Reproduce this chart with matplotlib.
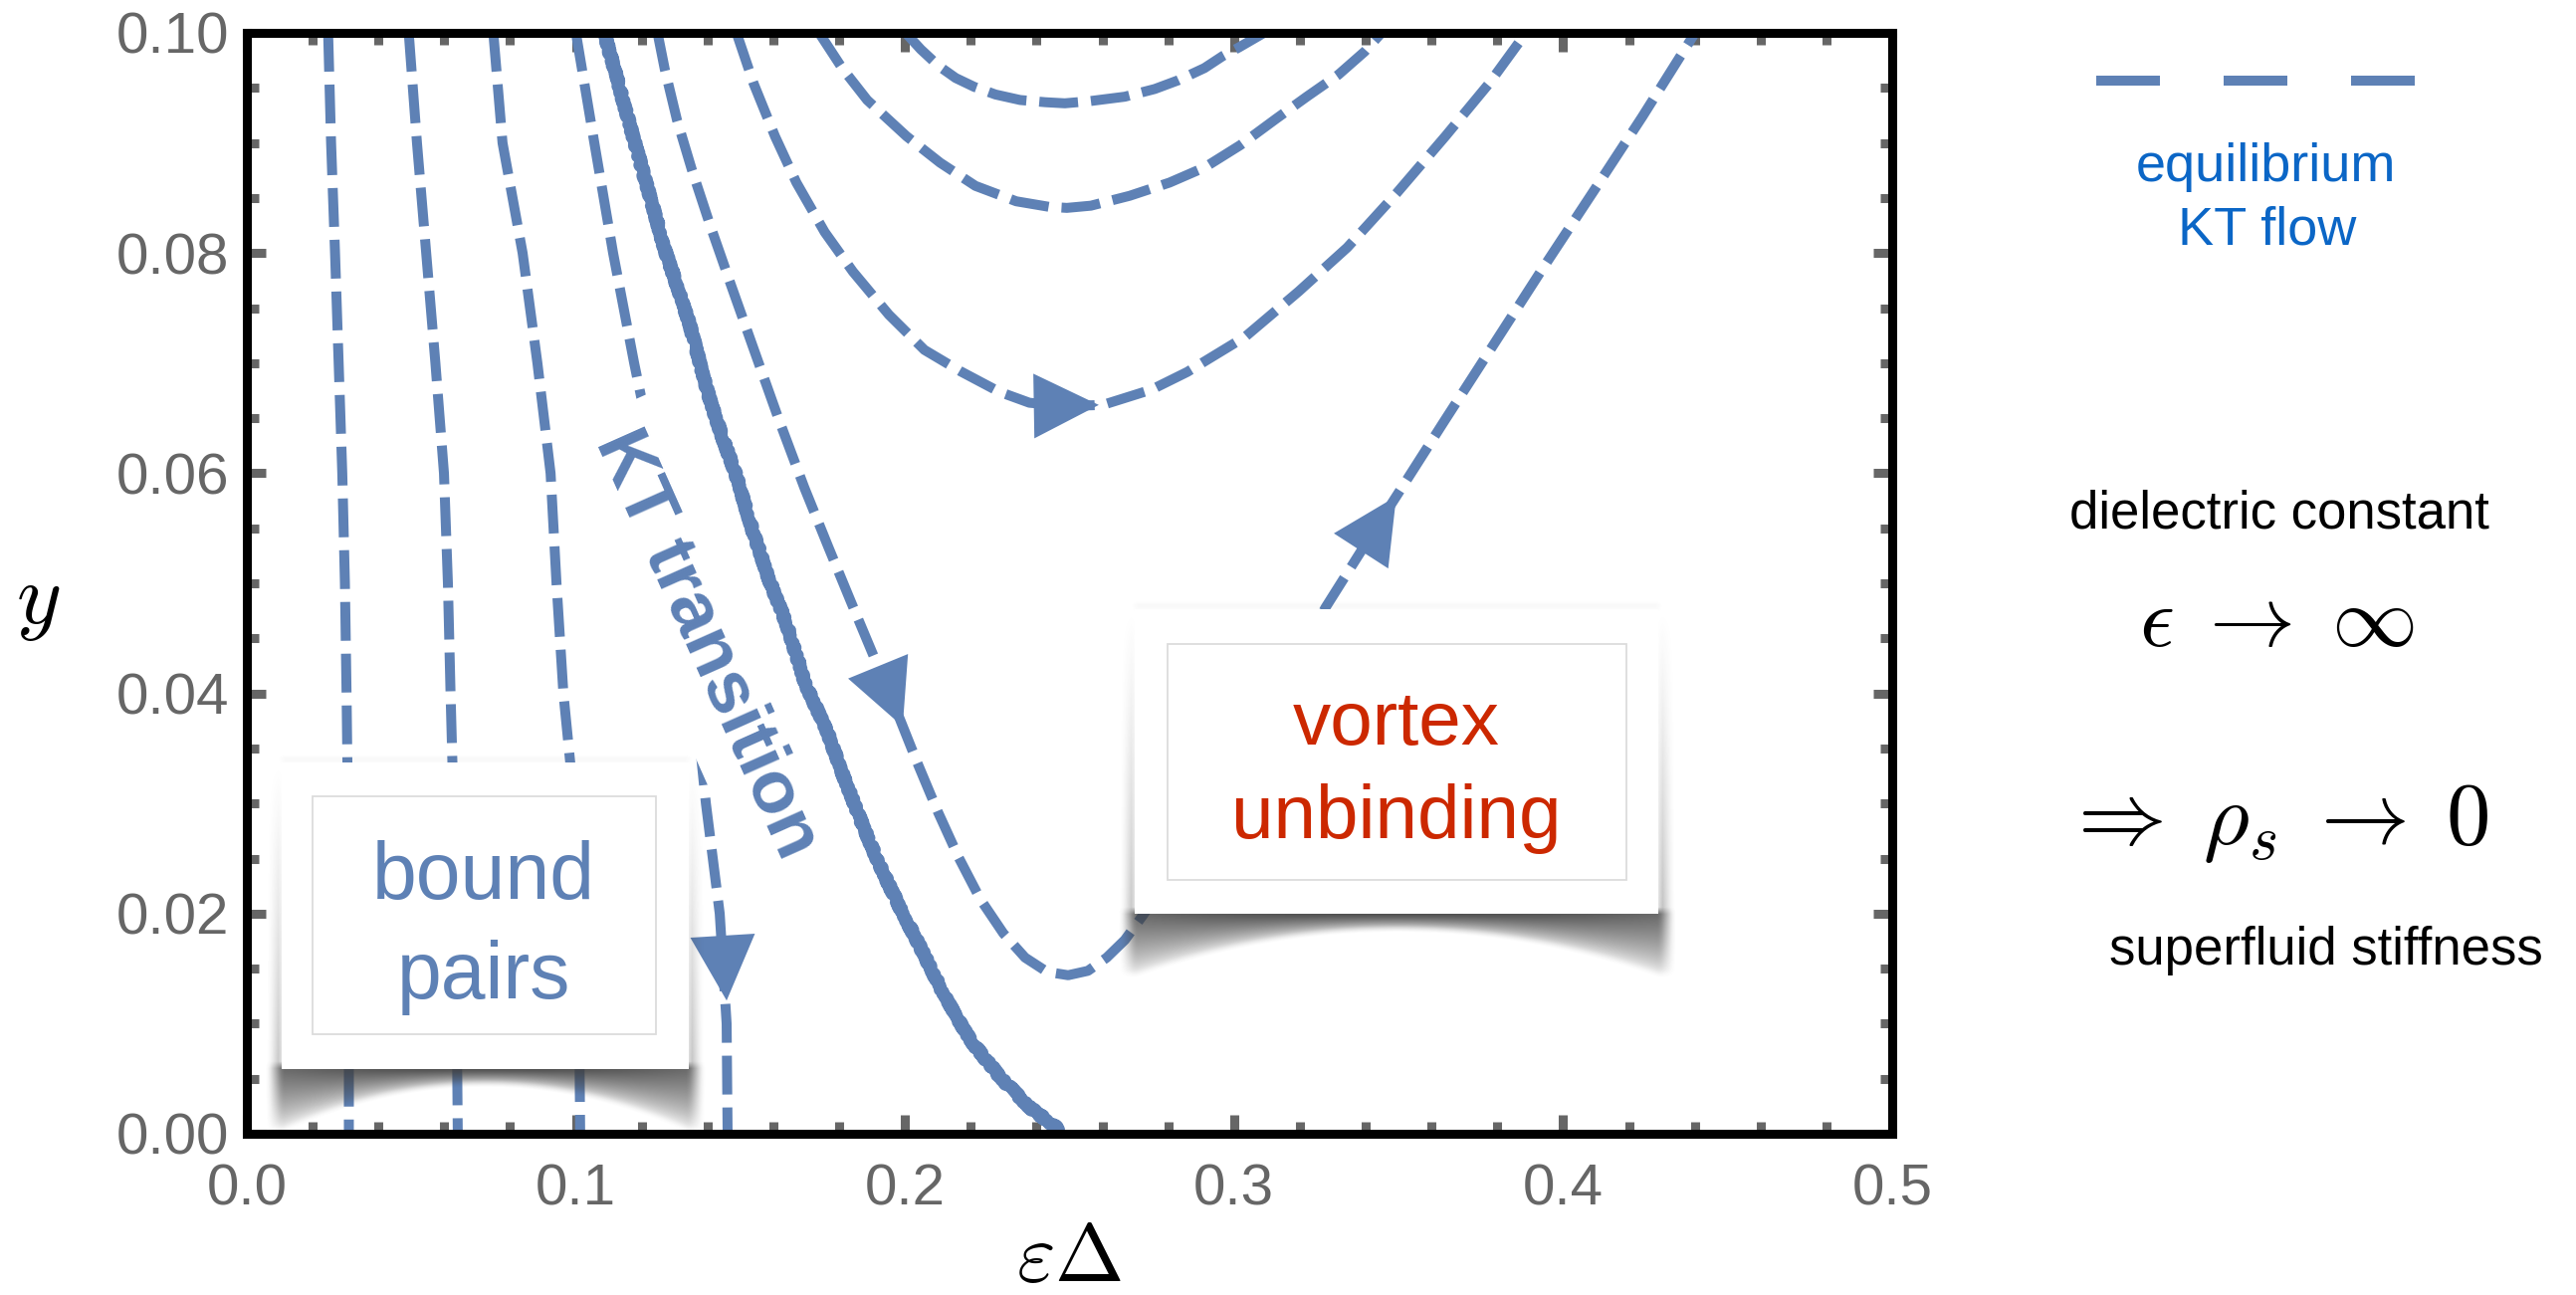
import numpy as np
import matplotlib
matplotlib.use("Agg")
import matplotlib.pyplot as plt
from matplotlib.ticker import MultipleLocator, FormatStrFormatter
from matplotlib.patches import Rectangle
from matplotlib.lines import Line2D

plt.rcParams['font.family'] = ['Liberation Sans', 'DejaVu Sans']
plt.rcParams['mathtext.fontset'] = 'cm'

# ---------------- data ----------------
# vertical flow lines (bound-pair side), sampled on a common y grid
y_grid = [0.100, 0.090, 0.080, 0.070, 0.060, 0.050, 0.040, 0.030, 0.020, 0.010, 0.000]
flowA_x = [0.0247, 0.0256, 0.0268, 0.0279, 0.0290, 0.0298, 0.0303, 0.0307, 0.0309, 0.0310, 0.0310]
flowB_x = [0.0492, 0.0517, 0.0545, 0.0573, 0.0599, 0.0611, 0.0619, 0.0628, 0.0634, 0.0638, 0.0641]
flowC_x = [0.0749, 0.0777, 0.0838, 0.0883, 0.0923, 0.0941, 0.0962, 0.0995, 0.1004, 0.1010, 0.1013]
flowD_x = [0.1000, 0.1056, 0.1113, 0.1177, 0.1246, 0.1310, 0.1361, 0.1395, 0.1437, 0.1458, 0.1461]

# flow line through the vortex-unbinding region (down, turning, up)
flowE_x = [0.1248, 0.1270, 0.1307, 0.1352, 0.1407, 0.1470, 0.1540, 0.1615, 0.1694, 0.1767,
           0.1836, 0.1906, 0.1972, 0.2036, 0.2099, 0.2163, 0.2229, 0.2299, 0.2365, 0.2432,
           0.2496, 0.2556, 0.2613, 0.2668, 0.2722, 0.2789, 0.2880, 0.3001, 0.3122, 0.3212,
           0.3278, 0.3394, 0.3493, 0.3636, 0.3787, 0.3938, 0.4090, 0.4241, 0.4401]
flowE_y = [0.1000, 0.0967, 0.0921, 0.0876, 0.0826, 0.0772, 0.0713, 0.0650, 0.0587, 0.0533,
           0.0483, 0.0433, 0.0386, 0.0338, 0.0293, 0.0251, 0.0213, 0.0182, 0.0160, 0.0147,
           0.0144, 0.0148, 0.0160, 0.0176, 0.0198, 0.0227, 0.0270, 0.0329, 0.0392, 0.0442,
           0.0478, 0.0533, 0.0579, 0.0646, 0.0716, 0.0786, 0.0855, 0.0924, 0.1000]

# three upper arcs
flowF_x = [0.1488, 0.1540, 0.1605, 0.1670, 0.1756, 0.1842, 0.1951, 0.2059, 0.2166, 0.2286,
           0.2378, 0.2489, 0.2601, 0.2750, 0.2858, 0.3034, 0.3196, 0.3344, 0.3493, 0.3642,
           0.3775, 0.3887]
flowF_y = [0.1000, 0.0954, 0.0906, 0.0864, 0.0819, 0.0783, 0.0744, 0.0712, 0.0693, 0.0674,
           0.0664, 0.0661, 0.0662, 0.0676, 0.0692, 0.0724, 0.0765, 0.0805, 0.0854, 0.0906,
           0.0954, 0.1000]
flowG_x = [0.1739, 0.1809, 0.1885, 0.2005, 0.2107, 0.2214, 0.2338, 0.2437, 0.2492, 0.2565,
           0.2683, 0.2804, 0.2912, 0.3019, 0.3128, 0.3221, 0.3317, 0.3397, 0.3448]
flowG_y = [0.1000, 0.0968, 0.0939, 0.0906, 0.0882, 0.0861, 0.0847, 0.0842, 0.0841, 0.0843,
           0.0852, 0.0864, 0.0878, 0.0898, 0.0922, 0.0942, 0.0962, 0.0983, 0.1000]
flowH_x = [0.2002, 0.2048, 0.2102, 0.2154, 0.2210, 0.2275, 0.2350, 0.2426, 0.2486, 0.2562,
           0.2668, 0.2759, 0.2831, 0.2910, 0.2966, 0.3016, 0.3091]
flowH_y = [0.1000, 0.0985, 0.0970, 0.0959, 0.0951, 0.0944, 0.0939, 0.0937, 0.0936, 0.0938,
           0.0942, 0.0949, 0.0957, 0.0968, 0.0979, 0.0987, 0.1000]

# KT transition (separatrix)
kt_x = [0.1086, 0.1125, 0.1183, 0.1231, 0.1270, 0.1310, 0.1346, 0.1379, 0.1410, 0.1446,
        0.1485, 0.1534, 0.1585, 0.1641, 0.1697, 0.1764, 0.1809, 0.1865, 0.1921, 0.1987,
        0.2044, 0.2122, 0.2201, 0.2290, 0.2379, 0.2468]
kt_y = [0.1000, 0.0958, 0.0896, 0.0845, 0.0803, 0.0768, 0.0735, 0.0697, 0.0664, 0.0632,
        0.0600, 0.0551, 0.0505, 0.0462, 0.0409, 0.0365, 0.0328, 0.0285, 0.0245, 0.0204,
        0.0171, 0.0124, 0.0084, 0.0051, 0.0024, 0.0004]

# flow-direction arrows: (base x, base y, tip x, tip y)
arrow_base_x = [0.2384, 0.1919, 0.1446, 0.3385]
arrow_base_y = [0.0661, 0.0424, 0.0179, 0.0529]
arrow_tip_x = [0.2589, 0.1993, 0.1458, 0.3493]
arrow_tip_y = [0.0662, 0.0370, 0.0121, 0.0579]

x_ticks = [0.0, 0.1, 0.2, 0.3, 0.4, 0.5]
y_ticks = [0.00, 0.02, 0.04, 0.06, 0.08, 0.10]

BLUE = '#5E81B5'
RED = '#CC2800'
LEGBLUE = '#0B66C6'
GRAY = '#666666'

W, H, DPI = 2588, 1301, 100
fig = plt.figure(figsize=(W / DPI, H / DPI), dpi=DPI)
ax = fig.add_axes([248 / W, 1 - 1139 / H, 1653 / W, 1106 / H])

# pixel -> data scale (for styling sizes only)
sx = 0.5 / 1653.0
sy = 0.1 / 1106.0

LW = 7.2
dash = (0, (3.9, 1.3))
for xs, ys in [(flowA_x, y_grid), (flowB_x, y_grid), (flowC_x, y_grid), (flowD_x, y_grid),
               (flowE_x, flowE_y), (flowF_x, flowF_y), (flowG_x, flowG_y), (flowH_x, flowH_y)]:
    ax.plot(xs, ys, color=BLUE, lw=LW, ls=dash, dash_capstyle='butt', zorder=2)

kt_line, = ax.plot(kt_x, kt_y, color=BLUE, lw=9, solid_capstyle='round', zorder=2.6)
kt_line.set_sketch_params(scale=1.5, length=5, randomness=12)

for bx, by, tx, ty in zip(arrow_base_x, arrow_base_y, arrow_tip_x, arrow_tip_y):
    ax.annotate('', xy=(tx, ty), xytext=(bx, by),
                arrowprops=dict(arrowstyle='-|>,head_length=2.35,head_width=1.17',
                                mutation_scale=20, fc=BLUE, ec='none', lw=0,
                                shrinkA=0, shrinkB=0), zorder=2.2)

# KT transition label (white background hides the dashed line behind it)
ax.text(0.1398, 0.0445, 'KT transition', rotation=-66, rotation_mode='anchor',
        ha='center', va='center', fontsize=54, fontweight='bold', color=BLUE, zorder=2.5,
        bbox=dict(boxstyle='square,pad=0.3', fc='white', ec='none'))


def box_blur(a, k):
    ker = np.ones(k) / k
    a = np.apply_along_axis(lambda r: np.convolve(r, ker, mode='same'), 1, a)
    a = np.apply_along_axis(lambda r: np.convolve(r, ker, mode='same'), 0, a)
    return a


def card(x0, y0, x1, y1, ix0, iy0, ix1, iy1):
    Wp = (x1 - x0) / sx
    Hp = (y1 - y0) / sy
    mL, mB, mT = 22, 75, 10
    nx = int(Wp + 2 * mL)
    ny = int(Hp + mB + mT)
    X = np.arange(nx) - mL
    Yd = np.arange(ny) - mT
    XX, YY = np.meshgrid(X, Yd)
    u = np.clip(XX / Wp, 0, 1)
    d = YY - Hp
    c = 15 + 46 * (2 * u - 1) ** 2
    a = 0.78 + 0.17 * (1 - (2 * u - 1) ** 2)
    below = a * np.clip(1 - d / c, 0, 1) ** 0.65 * (d >= -4)
    out = np.maximum(-XX, XX - Wp)
    below *= np.clip(1 - out / 14, 0, 1)
    inside_v = (YY >= 0) & (YY <= Hp + 2)
    side = 0.40 * np.clip(1 - out / 13, 0, 1) * (out > 0) * np.clip(YY / Hp, 0, 1) ** 1.2 * inside_v
    top = 0.08 * np.clip(1 - (-YY) / 6, 0, 1) * (YY < 0) * (out <= 0)
    alpha = np.maximum(np.maximum(below, side), top)
    alpha = box_blur(alpha, 7)
    rgba = np.zeros((ny, nx, 4))
    rgba[..., :3] = 0.25
    rgba[..., 3] = np.clip(alpha, 0, 1)
    ax.imshow(rgba, extent=[x0 - mL * sx, x0 + (nx - mL) * sx,
                            y1 - (ny - mT) * sy, y1 + mT * sy],
              origin='upper', aspect='auto', interpolation='bilinear', zorder=3)
    ax.add_patch(Rectangle((x0, y0), x1 - x0, y1 - y0, fc='white', ec='none', zorder=3.1))
    ax.add_patch(Rectangle((ix0, iy0), ix1 - ix0, iy1 - iy0, fc='none', ec='#dcdcdc',
                           lw=1.3, zorder=3.2))


card(0.0107, 0.00591, 0.1343, 0.03373, 0.0199, 0.00904, 0.1243, 0.03065)
card(0.2698, 0.01998, 0.4289, 0.04765, 0.2799, 0.02306, 0.4192, 0.04448)

ax.text(0.0719, 0.02134, 'bound', ha='center', va='baseline', fontsize=58, color=BLUE, zorder=3.3)
ax.text(0.0719, 0.01232, 'pairs', ha='center', va='baseline', fontsize=58, color=BLUE, zorder=3.3)
ax.text(0.34915, 0.03535, 'vortex', ha='center', va='baseline', fontsize=55, color=RED, zorder=3.3)
ax.text(0.34915, 0.02685, 'unbinding', ha='center', va='baseline', fontsize=55, color=RED, zorder=3.3)

# axes styling
ax.set_xlim(0, 0.5)
ax.set_ylim(0, 0.1)
ax.set_xticks(x_ticks)
ax.set_yticks(y_ticks)
ax.xaxis.set_minor_locator(MultipleLocator(0.02))
ax.yaxis.set_minor_locator(MultipleLocator(0.005))
ax.xaxis.set_major_formatter(FormatStrFormatter('%.1f'))
ax.yaxis.set_major_formatter(FormatStrFormatter('%.2f'))
ax.tick_params(which='both', direction='in', top=True, right=True, color=GRAY,
               width=6.5, labelcolor=GRAY, labelsize=42)
ax.tick_params(which='major', length=14)
ax.tick_params(which='minor', length=8.5)
ax.tick_params(axis='x', pad=21)
ax.tick_params(axis='y', pad=13)
for s in ax.spines.values():
    s.set_linewidth(6.5)
    s.set_color('black')
    s.set_zorder(4)

ax.set_xlabel(r'$\varepsilon\Delta$', fontsize=60)
ax.xaxis.set_label_coords(0.4997, -0.134)
ax.xaxis.label.set_va('baseline')
ax.set_ylabel(r'$y$', fontsize=62, rotation=0)
ax.yaxis.set_label_coords(-0.127, 0.4638)
ax.yaxis.label.set_va('baseline')
ax.yaxis.label.set_ha('center')

# right-hand annotations
fig.add_artist(Line2D([2106 / W, 2426 / W], [0.9377, 0.9377], transform=fig.transFigure,
                      color=BLUE, lw=7.2, ls=(0, (6.4, 6.4)), dash_capstyle='butt'))
fig.text(0.8798, 0.8603, 'equilibrium', ha='center', va='baseline', fontsize=39, color=LEGBLUE)
fig.text(0.8802, 0.8113, 'KT flow', ha='center', va='baseline', fontsize=39, color=LEGBLUE)
fig.text(0.8847, 0.5919, 'dielectric constant', ha='center', va='baseline', fontsize=38, color='black')
fig.text(0.8837, 0.5012, r'$\epsilon\;\rightarrow\;\infty$', ha='center', va='baseline',
         fontsize=62, color='black')
fig.text(0.8836, 0.3482, r'$\Rightarrow\;\rho_s\;\rightarrow\;0$', ha='center', va='baseline',
         fontsize=64, color='black')
fig.text(0.9028, 0.2549, 'superfluid stiffness', ha='center', va='baseline', fontsize=38, color='black')

fig.savefig('out.png', dpi=DPI, facecolor='white')
